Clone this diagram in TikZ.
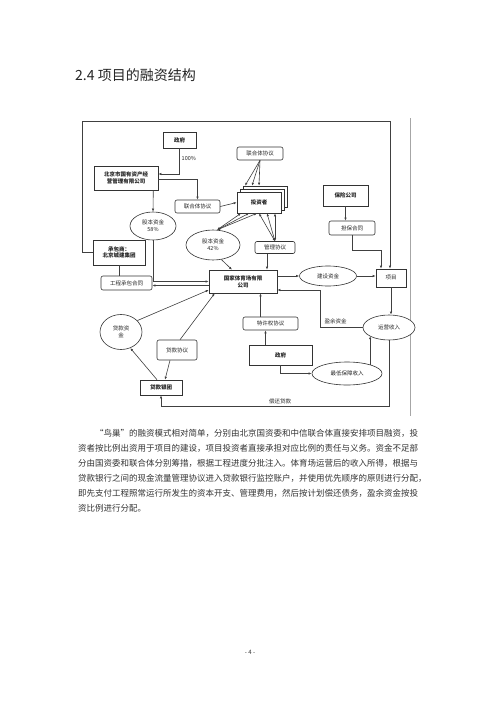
\documentclass[tikz,border=0pt]{standalone}
\usepackage{fontspec}
\setmainfont{Noto Sans CJK SC}
\usetikzlibrary{arrows.meta,shapes.geometric,calc}
\XeTeXlinebreaklocale "zh"
\XeTeXlinebreakskip=0pt plus 1pt minus 0.3pt
\begin{document}
\begin{tikzpicture}[x=1pt,y=-1pt,
  dfont/.style={font=\fontsize{5.5}{6.8}\selectfont},
  box/.style={draw=black!80, line width=0.6pt, fill=white, inner sep=1pt, align=center, text=black!85, dfont},
  bbox/.style={box, font=\fontsize{5.5}{6.8}\selectfont\bfseries},
  rbox/.style={box, rounded corners=2pt},
  ell/.style={ellipse, draw=black!80, line width=0.6pt, fill=white, inner sep=0pt, align=center, text=black!85, dfont},
  lbl/.style={inner sep=0.5pt, text=black!85, dfont},
  arr/.style={draw=black!75, line width=0.6pt, -{Latex[length=3pt,width=2.4pt]}},
  darr/.style={draw=black!75, line width=0.6pt, {Latex[length=3pt,width=2.4pt]}-{Latex[length=3pt,width=2.4pt]}},
  ln/.style={draw=black!75, line width=0.6pt},
  para/.style={anchor=west, inner sep=0pt, text=black!80, font=\fontsize{8.5}{10}\selectfont}
]
\useasboundingbox (0,0) rectangle (500,707);
\fill[white] (0,0) rectangle (500,707);

% title
\node[anchor=west, inner sep=0pt, text=black!85, font=\fontsize{14}{16}\selectfont] (title) at (75,75) {2.4 项目的融资结构};

% right border of the figure
\coordinate (rb1) at (410,118);
\coordinate (rb2) at (410,416);
\draw[black!35, line width=0.6pt] (rb1) -- (rb2);

% nodes
\node[bbox, minimum width=33pt, minimum height=16pt] (gov1) at (179.5,140) {政府};
\node[bbox, minimum width=64pt, minimum height=24pt] (bj) at (126,178) {北京市国有资产经\\营管理有限公司};
\node[rbox, minimum width=45pt, minimum height=13pt] (lht1) at (197.5,206.5) {联合体协议};
\node[rbox, minimum width=46pt, minimum height=13pt] (lht2) at (260,153.5) {联合体协议};
\node[box, minimum width=44pt, minimum height=21pt] (inv3) at (265,196.5) {};
\node[box, minimum width=44pt, minimum height=21pt] (inv2) at (262,199.5) {};
\node[bbox, minimum width=44pt, minimum height=21pt] (inv) at (259,202.5) {投资者};
\node[ell, minimum width=46pt, minimum height=28pt] (e58) at (153,226) {股本资金\\58\%};
\node[bbox, minimum width=52pt, minimum height=25pt] (cbs) at (119,252.5) {承包商：\\北京城建集团};
\node[rbox, minimum width=51pt, minimum height=14pt] (gcht) at (126.5,283) {工程承包合同};
\node[ell, minimum width=54pt, minimum height=30pt] (e42) at (213,245) {股本资金\\42\%};
\node[rbox, minimum width=40pt, minimum height=12pt] (glxy) at (275,247.5) {管理协议};
\node[bbox, minimum width=68pt, minimum height=23pt] (gj) at (243,281.5) {国家体育场有限\\公司};
\node[ell, minimum width=57pt, minimum height=20pt] (ejs) at (328,276) {建设资金};
\node[box, minimum width=30pt, minimum height=18pt] (xm) at (391,278) {项目};
\node[bbox, minimum width=45pt, minimum height=21pt] (bx) at (345.5,195.5) {保险公司};
\node[rbox, minimum width=46pt, minimum height=14pt] (dbht) at (352,228) {担保合同};
\node[ell, minimum width=52pt, minimum height=25pt] (eyy) at (389,327.5) {运营收入};
\node[rbox, minimum width=55pt, minimum height=13pt] (tq) at (270.5,323.5) {特许权协议};
\node[bbox, minimum width=63pt, minimum height=20pt] (gov2) at (280.5,355) {政府};
\node[ell, minimum width=70pt, minimum height=23pt] (ezd) at (347,373.5) {最低保障收入};
\node[bbox, minimum width=42pt, minimum height=15pt] (dkyt) at (161,387.5) {贷款银团};
\node[ell, minimum width=42pt, minimum height=35pt] (edk) at (121,332) {贷款资\\金};
\node[rbox, minimum width=40pt, minimum height=20pt] (dkxy) at (177,350) {贷款协议};

% labels
\node[lbl, anchor=west] (l100) at (181,158) {100\%};
\node[lbl, anchor=west] (lyy) at (324,321) {盈余资金};
\node[lbl] (lch) at (280,401) {偿还贷款};

% helper coordinates
\coordinate (c1) at (82,121);
\coordinate (c2) at (390,121);
\coordinate (c3) at (381,250);
\coordinate (c4) at (320,290);
\coordinate (c5) at (0,406);

% connectors
\draw[arr] (gov1.south) |- ([yshift=4pt]bj.east);
\draw[arr] ([yshift=-1pt]bj.east) -| (lht1.north);
\draw[arr] (lht1.east) -- (inv.west);
\draw[arr] (lht2.south) -- ([xshift=-20pt]inv3.north);
\draw[arr] (lht2.south) -- ([xshift=-13pt]inv3.north);
\draw[arr] (lht2.south) -- ([xshift=-6pt]inv3.north);
\draw[arr] ([xshift=-5pt]bj.south east) -- (e58.north);
\draw[arr] (e58.south) |- (gj.west);
\draw[arr] ([yshift=-4pt]gj.west) -- ([yshift=-4pt]gj.west -| gcht.east);
\draw[ln] (cbs.south) -- (cbs.south |- gcht.north);
\draw[arr] (cbs.west) -| (c1) -- (c2) -- (c2 |- xm.north);
% investors fan
\draw[darr] (e42.75) -- ([xshift=-18pt]inv.south);
\draw[darr] (e42.75) -- ([xshift=-10pt]inv.south);
\draw[darr] (e42.75) -- ([xshift=-2pt]inv.south);
\draw[darr] (glxy.north) -- ([xshift=0pt]inv.south);
\draw[darr] (glxy.north) -- ([xshift=8pt]inv.south);
\draw[darr] (glxy.north) -- ([xshift=16pt]inv.south);
\draw[arr] (e42.-60) -- ([xshift=-11pt]gj.north);
\draw[arr] ([xshift=-8pt]glxy.south) -- ([xshift=-8pt]glxy.south |- gj.north);
\draw[arr] (ejs.west -| gj.east) -- (ejs.west);
\draw[arr] (ejs.east) -- (ejs.east -| xm.west);
\draw[arr] (bx.south) -- (bx.south |- dbht.north);
\draw[arr] (dbht.south) |- (c3) -- (c3 |- xm.north);
\draw[arr] (xm.south) -- (xm.south |- eyy.north);
\draw[arr] (eyy.west) -| (c4) -- (c4 -| gj.east);
\draw[arr] ([xshift=-10pt]tq.north) -- ([xshift=-10pt]tq.north |- gj.south);
\draw[arr] ([xshift=-15pt]gov2.north) -- ([xshift=-15pt]gov2.north |- tq.south);
\draw[arr] (gov2.south) |- (ezd.west);
\draw[arr] (ezd.21) -- (ezd.21 |- eyy.204);
\draw[arr] (eyy.south) |- (c5 -| dkyt.south) -- (dkyt.south);
\draw[arr] ([xshift=-4pt]dkyt.north) -- (edk.-60);
\draw[arr] (edk.35) -- ([yshift=-8.5pt]gj.west);
\draw[arr] ([xshift=3pt]dkxy.north) -- ([xshift=6pt]gj.south west);
\draw[arr] ([xshift=-7pt]dkxy.south) -- ([xshift=4pt]dkyt.north);

% paragraph
\node[para] (p1) at (95,433) {\makebox[325pt][s]{“鸟巢”的融资模式相对简单，分别由北京国资委和中信联合体直接安排项目融资，投}};
\node[para] (p2) at (78,448) {\makebox[342pt][s]{资者按比例出资用于项目的建设，项目投资者直接承担对应比例的责任与义务。资金不足部}};
\node[para] (p3) at (78,463) {\makebox[342pt][s]{分由国资委和联合体分别筹措，根据工程进度分批注入。体育场运营后的收入所得，根据与}};
\node[para] (p4) at (78,478) {\makebox[342pt][s]{贷款银行之间的现金流量管理协议进入贷款银行监控账户，并使用优先顺序的原则进行分配，}};
\node[para] (p5) at (78,493) {\makebox[342pt][s]{即先支付工程照常运行所发生的资本开支、管理费用，然后按计划偿还债务，盈余资金按投}};
\node[para] (p6) at (78,508) {资比例进行分配。};

% page number
\node[inner sep=0pt, text=black!80, font=\fontsize{6}{7}\selectfont] (pg) at (250,652) {- 4 -};
\end{tikzpicture}
\end{document}
